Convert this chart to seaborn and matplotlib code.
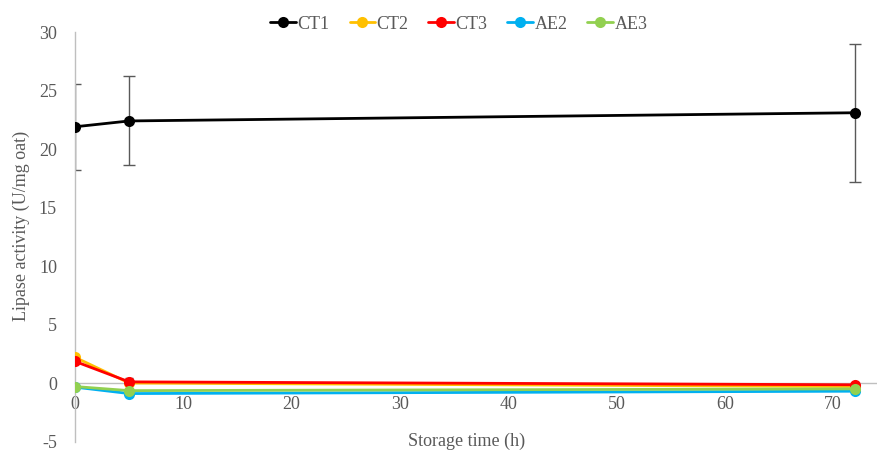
import matplotlib
matplotlib.use("Agg")
import matplotlib.pyplot as plt
import seaborn as sns
import pandas as pd

times = [0, 5, 72]
series = ["CT1", "CT2", "CT3", "AE2", "AE3"]
ct1 = [21.9, 22.4, 23.1]
ct2 = [2.2, 0.0, -0.3]
ct3 = [1.85, 0.1, -0.15]
ae2 = [-0.35, -0.9, -0.7]
ae3 = [-0.3, -0.65, -0.5]
ct1_err = [3.7, 3.8, 5.9]
ct3_err = [0.0, 0.3, 0.0]
colors = ["#000000", "#FFC000", "#FF0000", "#00B0F0", "#92D050"]

values = {"CT1": ct1, "CT2": ct2, "CT3": ct3, "AE2": ae2, "AE3": ae3}
rows = []
for s in series:
    for t, v in zip(times, values[s]):
        rows.append({"time": t, "value": v, "series": s})
df = pd.DataFrame(rows)

sns.set_style("white")
plt.rcParams["font.family"] = ["Liberation Serif", "DejaVu Serif"]
plt.rcParams["axes.unicode_minus"] = False

fig = plt.figure(figsize=(8.77, 4.51), dpi=100)
ax = fig.add_axes([0.0855, 0.021, 0.914, 0.908])

# error bars
ax.errorbar(times, ct1, yerr=ct1_err, fmt="none", ecolor="#595959",
            elinewidth=1, capsize=4, capthick=1, zorder=1)
ax.errorbar(times, ct3, yerr=ct3_err, fmt="none", ecolor="#595959",
            elinewidth=1, capsize=3, capthick=1, zorder=1)

sns.lineplot(data=df, x="time", y="value", hue="series", hue_order=series,
             palette=colors, marker="o", markersize=8, markeredgewidth=0,
             linewidth=2, ax=ax, legend=True, zorder=3)

ax.set_xlim(0, 74)
ax.set_ylim(-5, 30)
ax.set_xticks(range(0, 71, 10))
ax.set_yticks(range(-5, 31, 5))

for sp in ["top", "right"]:
    ax.spines[sp].set_visible(False)
ax.spines["left"].set_color("#bfbfbf")
ax.spines["bottom"].set_color("#bfbfbf")
ax.spines["bottom"].set_position(("data", 0))
ax.spines["left"].set_linewidth(1)
ax.spines["bottom"].set_linewidth(1)
ax.tick_params(axis="both", length=0, labelsize=13, colors="#595959")
ax.tick_params(axis="y", pad=13)
ax.tick_params(axis="x", pad=9)
ax.set_xlabel("")
ax.set_ylabel("")
fig.text(0.024, 0.5, "Lipase activity (U/mg oat)", rotation=90, ha="center",
         va="center", fontsize=13, color="#595959")
fig.text(0.532, 0.022, "Storage time (h)", ha="center", va="center",
         fontsize=13, color="#595959")

handles, labels = ax.get_legend_handles_labels()
leg = ax.legend(handles, labels, loc="upper center", bbox_to_anchor=(0.479, 1.08),
                ncol=5, frameon=False, fontsize=13, handlelength=1.4,
                columnspacing=1.1, handletextpad=0.1, labelcolor="#595959")

fig.savefig("out.png", dpi=100)
